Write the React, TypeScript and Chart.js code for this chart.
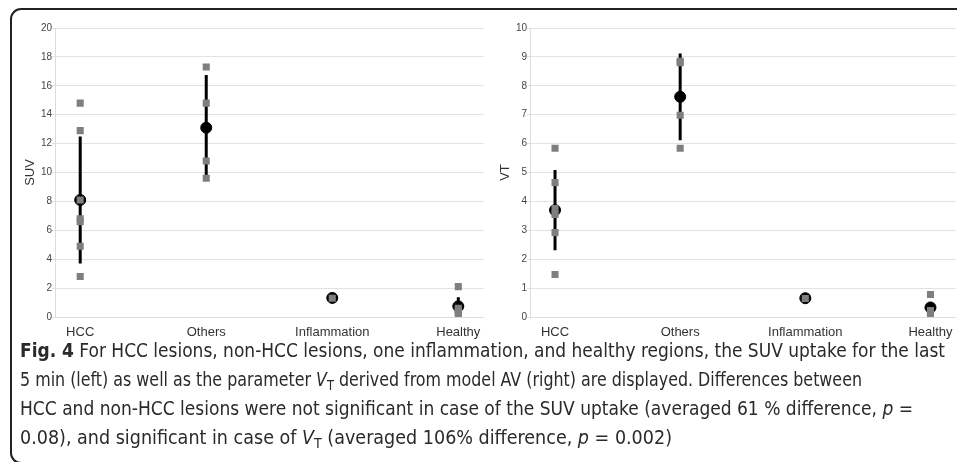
import React, { useEffect, useLayoutEffect, useRef } from 'react';
import { Chart, registerables } from 'chart.js';

Chart.register(...registerables);

const categories = ['HCC', 'Others', 'Inflammation', 'Healthy'];

// Left panel: SUV (last 5 min)
const suvValues: number[][] = [
  [14.8, 12.9, 8.1, 6.8, 6.6, 4.9, 2.8],
  [17.3, 14.8, 10.8, 9.6],
  [1.3],
  [2.1, 0.6, 0.45, 0.3, 0.25],
];
const suvMean = [8.1, 13.1, 1.32, 0.74];
const suvSd = [4.4, 3.65, 0, 0.63];
const suvMax = 20;
const suvStep = 2;

// Right panel: VT (model AV)
const vtValues: number[][] = [
  [5.84, 4.65, 3.75, 3.55, 2.92, 1.47],
  [8.85, 8.8, 6.98, 5.84],
  [0.64],
  [0.78, 0.22, 0.15, 0.12],
];
const vtMean = [3.7, 7.62, 0.65, 0.33];
const vtSd = [1.39, 1.5, 0, 0.19];
const vtMax = 10;
const vtStep = 1;

const FONT = '"Liberation Sans", Arial, sans-serif';

function buildConfig(
  values: number[][],
  mean: number[],
  sd: number[],
  yMax: number,
  yStep: number,
  yTitle: string,
  padLeft: number,
  padRight: number
): any {
  const points = values.flatMap((vals, i) => vals.map((v) => ({ x: i, y: v })));
  const means = mean.map((m, i) => ({ x: i, y: m }));
  const bars: any[] = [];
  mean.forEach((m, i) => {
    if (sd[i] > 0) {
      bars.push({ x: i, y: m - sd[i] });
      bars.push({ x: i, y: m + sd[i] });
      bars.push({ x: i, y: null });
    }
  });
  return {
    type: 'scatter',
    data: {
      datasets: [
        {
          label: 'values',
          data: points,
          pointStyle: 'rect',
          pointRadius: 5,
          pointBackgroundColor: '#7f7f7f',
          pointBorderWidth: 0,
          order: 0,
        },
        {
          label: 'mean',
          data: means,
          pointStyle: 'circle',
          pointRadius: 5.5,
          pointBackgroundColor: '#000',
          pointBorderColor: '#000',
          pointBorderWidth: 1,
          order: 1,
        },
        {
          type: 'line',
          label: 'sd',
          data: bars,
          showLine: true,
          spanGaps: false,
          borderColor: '#000',
          borderWidth: 3,
          borderCapStyle: 'butt',
          pointRadius: 0,
          order: 2,
        },
      ],
    },
    options: {
      animation: false,
      responsive: false,
      events: [],
      layout: { padding: { left: padLeft, right: padRight, top: 28, bottom: 0 } },
      plugins: { legend: { display: false }, tooltip: { enabled: false } },
      scales: {
        x: {
          type: 'linear',
          min: -0.2,
          max: 3.2,
          afterBuildTicks: (scale: any) => {
            scale.ticks = categories.map((_, i) => ({ value: i }));
          },
          afterFit: (scale: any) => {
            scale.height = 23;
          },
          grid: { display: false, drawTicks: false, tickLength: 0 },
          border: { display: true, color: '#dcdcdc' },
          ticks: {
            autoSkip: false,
            maxRotation: 0,
            padding: 8,
            color: '#333',
            font: { family: FONT, size: 13 },
            callback: (v: any) => categories[v] ?? '',
          },
        },
        y: {
          min: 0,
          max: yMax,
          afterFit: (scale: any) => {
            scale.width = 32;
          },
          grid: { color: '#e2e2e2', lineWidth: 1, tickLength: 3 },
          border: { display: true, color: '#dcdcdc' },
          ticks: {
            stepSize: yStep,
            padding: 0,
            color: '#444',
            font: { family: FONT, size: 10 },
          },
          title: {
            display: true,
            text: yTitle,
            color: '#333',
            padding: 0,
            font: { family: FONT, size: 13 },
          },
        },
      },
    },
  };
}

function Panel(props: { config: any; left: number; width: number }) {
  const ref = useRef<HTMLCanvasElement | null>(null);
  useEffect(() => {
    if (!ref.current) return;
    const chart = new Chart(ref.current, props.config);
    return () => chart.destroy();
  }, []);
  return (
    <canvas
      ref={ref}
      width={props.width}
      height={340}
      style={{ position: 'absolute', left: props.left, top: 0, width: props.width, height: 340 }}
    />
  );
}

const sub: React.CSSProperties = { fontSize: '0.72em', verticalAlign: '-0.28em', lineHeight: 0 };

// widths (px) of each caption line
const captionWidths = [925, 842, 893, 652];

function CaptionLine(props: { target: number; children: React.ReactNode }) {
  const divRef = useRef<HTMLDivElement | null>(null);
  const spanRef = useRef<HTMLSpanElement | null>(null);
  useLayoutEffect(() => {
    if (!divRef.current || !spanRef.current) return;
    const w = spanRef.current.getBoundingClientRect().width;
    if (w > 0) divRef.current.style.transform = `scaleX(${props.target / w})`;
  }, []);
  return (
    <div
      ref={divRef}
      style={{ whiteSpace: 'nowrap', height: 29, lineHeight: '29px', transformOrigin: '0 0' }}
    >
      <span ref={spanRef}>{props.children}</span>
    </div>
  );
}

export default function App() {
  const leftCfg = buildConfig(suvValues, suvMean, suvSd, suvMax, suvStep, 'SUV', 23, 4);
  const rightCfg = buildConfig(vtValues, vtMean, vtSd, vtMax, vtStep, 'VT', 8, 0);
  return (
    <div
      style={{
        position: 'fixed',
        left: 0,
        top: 0,
        width: 957,
        height: 462,
        overflow: 'hidden',
        background: '#fff',
      }}
    >
      <div
        style={{
          position: 'absolute',
          left: 10,
          top: 8,
          width: 1000,
          height: 452,
          border: '2px solid #222',
          borderRadius: 11,
        }}
      />
      <Panel config={leftCfg} left={0} width={490} />
      <Panel config={rightCfg} left={490} width={472} />
      <div
        style={{
          position: 'absolute',
          left: 20,
          top: 336,
          fontFamily: '"Liberation Sans Narrow", "DejaVu Sans Condensed", sans-serif',
          fontSize: 20,
          color: '#2a2a2a',
        }}
      >
        <CaptionLine target={captionWidths[0]}>
          <b>Fig. 4</b> For HCC lesions, non-HCC lesions, one inflammation, and healthy regions, the SUV uptake for the last
        </CaptionLine>
        <CaptionLine target={captionWidths[1]}>
          5 min (left) as well as the parameter <i>V</i>
          <span style={sub}>T</span> derived from model AV (right) are displayed. Differences between
        </CaptionLine>
        <CaptionLine target={captionWidths[2]}>
          HCC and non-HCC lesions were not significant in case of the SUV uptake (averaged 61 % difference, <i>p</i> =
        </CaptionLine>
        <CaptionLine target={captionWidths[3]}>
          0.08), and significant in case of <i>V</i>
          <span style={sub}>T</span> (averaged 106% difference, <i>p</i> = 0.002)
        </CaptionLine>
      </div>
    </div>
  );
}
